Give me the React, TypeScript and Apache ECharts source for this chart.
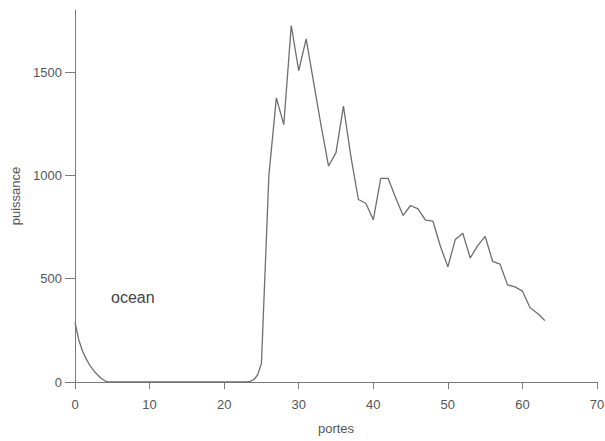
import React, { useEffect, useRef } from "react";
import * as echarts from "echarts";

const portes: number[] = [
  0, 0.5, 1, 1.5, 2, 2.5, 3, 3.5, 4, 4.5, 5, 6, 7, 8, 9, 10, 11, 12, 13, 14, 15, 16, 17, 18, 19, 20,
  21, 22, 23, 23.5, 24, 24.5, 25, 26, 27, 28, 29, 30, 31, 32, 33, 34, 35, 36, 37, 38, 39, 40, 41, 42, 43, 44,
  45, 46, 47, 48, 49, 50, 51, 52, 53, 54, 55, 56, 57, 58, 59, 60, 61, 62, 63,
];
const puissance: number[] = [
  288, 205, 150, 112, 80, 55, 35, 18, 6, 0, 0, 0, 0, 0, 0, 0, 0, 0, 0, 0, 0, 0, 0, 0, 0, 0,
  0, 0, 0, 3, 12, 35, 90, 1000, 1375, 1245, 1725, 1506, 1660, 1450, 1240, 1045, 1110, 1335, 1090, 883, 865, 785, 985, 985, 892, 806,
  854, 838, 783, 778, 657, 557, 690, 720, 600, 660, 705, 584, 570, 470, 460, 440, 360, 333, 298,
];
const yTicks: number[] = [0, 500, 1000, 1500];

export default function App() {
  const ref = useRef<HTMLDivElement>(null);
  useEffect(() => {
    if (!ref.current) return;
    const chart = echarts.init(ref.current, null, { renderer: "svg" });
    const axisColor = "#7a7a7a";
    const textColor = "#555";
    chart.setOption({
      animation: false,
      backgroundColor: "#fff",
      grid: { left: 75, right: 8, top: 10, bottom: 59, containLabel: false, outerBoundsMode: "none" },
      xAxis: {
        type: "value",
        min: 0,
        max: 70,
        interval: 10,
        name: "portes",
        nameLocation: "middle",
        nameGap: 40,
        nameTextStyle: { color: textColor, fontSize: 13, fontFamily: "Liberation Sans" },
        axisLine: { show: true, onZero: false, lineStyle: { color: axisColor, width: 1 } },
        axisTick: { show: true, inside: false, length: 7, lineStyle: { color: axisColor, width: 1 } },
        axisLabel: { color: textColor, fontSize: 13, margin: 16, fontFamily: "Liberation Sans", formatter: (v: number) => String(v) },
        splitLine: { show: false },
      },
      yAxis: {
        type: "value",
        min: 0,
        max: 1800,
        name: "puissance",
        nameLocation: "middle",
        nameGap: 47,
        nameTextStyle: { color: textColor, fontSize: 13, fontFamily: "Liberation Sans" },
        axisLine: { show: true, lineStyle: { color: axisColor, width: 1 } },
        axisTick: { show: true, inside: false, length: 10, lineStyle: { color: axisColor, width: 1 }, customValues: yTicks },
        axisLabel: { color: textColor, fontSize: 13, margin: 13, fontFamily: "Liberation Sans", customValues: yTicks, formatter: (v: number) => String(v) },
        splitLine: { show: false },
      },
      graphic: [
        {
          type: "text",
          left: 111,
          top: 289,
          style: { text: "ocean", fill: "#444", fontSize: 16, fontFamily: "Liberation Sans" },
        },
      ],
      series: [
        {
          type: "line",
          data: portes.map((x, i) => [x, puissance[i]]),
          showSymbol: false,
          symbol: "none",
          lineStyle: { color: "#6e6e6e", width: 1.3 },
        },
      ],
    });
    return () => chart.dispose();
  }, []);
  return <div ref={ref} style={{ width: 605, height: 441, position: "absolute", left: 0, top: 0 }} />;
}
